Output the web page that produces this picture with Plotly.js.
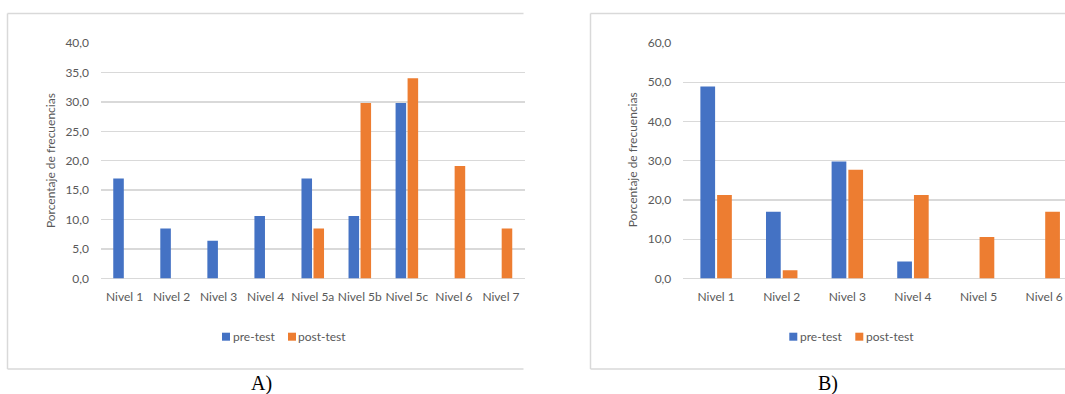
<!DOCTYPE html>
<html>
<head>
<meta charset="utf-8">
<script src="https://cdn.plot.ly/plotly-3.0.1.min.js"></script>
<style>
html, body { margin: 0; padding: 0; overflow: hidden; background: #ffffff; }
#chart { width: 1080px; height: 394px; }
</style>
</head>
<body>
<div id="chart"></div>
<script>
// ---- data ----
const seriesNames = ['pre-test', 'post-test'];
const seriesColors = ['#4472C4', '#ED7D31'];

const categoriesA = ['Nivel 1', 'Nivel 2', 'Nivel 3', 'Nivel 4', 'Nivel 5a', 'Nivel 5b', 'Nivel 5c', 'Nivel 6', 'Nivel 7'];
const preA  = [17.0, 8.5, 6.4, 10.6, 17.0, 10.6, 29.8, 0, 0];
const postA = [0, 0, 0, 0, 8.5, 29.8, 34.0, 19.1, 8.5];

const categoriesB = ['Nivel 1', 'Nivel 2', 'Nivel 3', 'Nivel 4', 'Nivel 5', 'Nivel 6'];
const preB  = [48.9, 17.0, 29.8, 4.3, 0, 0];
const postB = [21.3, 2.1, 27.7, 21.3, 10.6, 17.0];

const axisTitle = 'Porcentaje de frecuencias';
const panelLabels = ['A)', 'B)'];

// ---- layout helpers (pixel -> paper) ----
const W = 1080, H = 394;
const px = v => v / W;
const py = v => (H - v) / H;

const textColor = '#595959';
const gridColor = '#d9d9d9';
const font = 'Lato, "Open Sans", sans-serif';

function bar(x, y, i, xa, ya) {
  return {
    type: 'bar', x: x, y: y, name: seriesNames[i],
    marker: { color: seriesColors[i] },
    xaxis: xa, yaxis: ya, showlegend: false,
    hoverinfo: 'x+y'
  };
}

const data = [
  bar(categoriesA, preA, 0, 'x', 'y'),
  bar(categoriesA, postA, 1, 'x', 'y'),
  bar(categoriesB, preB, 0, 'x2', 'y2'),
  bar(categoriesB, postB, 1, 'x2', 'y2')
];

const yDom = [py(278.5), py(43)];

function xAxis(domain, anchor) {
  return {
    domain: domain, anchor: anchor, type: 'category',
    showgrid: false, zeroline: false, showline: false,
    ticks: '', ticklabelstandoff: 9,
    tickfont: { family: font, size: 12, color: textColor },
    fixedrange: true
  };
}
function yAxis(domain, anchor, max, dtick) {
  return {
    domain: domain, anchor: anchor, range: [0, max], dtick: dtick,
    tickformat: '.1f', showgrid: true, gridcolor: gridColor, gridwidth: 1.4,
    zeroline: true, zerolinecolor: gridColor, zerolinewidth: 1.4,
    showline: false, ticks: '', ticklabelstandoff: 11,
    tickfont: { family: font, size: 12, color: textColor },
    fixedrange: true
  };
}

const shapes = [];
const annotations = [];
function hline(x0, x1, y) {
  shapes.push({ type: 'line', xref: 'paper', yref: 'paper', x0: px(x0), x1: px(x1), y0: py(y), y1: py(y), line: { color: gridColor, width: 1.5 } });
}
function vline(x, y0, y1) {
  shapes.push({ type: 'line', xref: 'paper', yref: 'paper', x0: px(x), x1: px(x), y0: py(y0), y1: py(y1), line: { color: gridColor, width: 1.5 } });
}
// panel frames
vline(7.5, 13.5, 369); hline(7.5, 523.5, 13.5); hline(7.5, 523.5, 369);
vline(590.5, 13.5, 369); hline(590.5, 1080, 13.5); hline(590.5, 1080, 369);

// legends
function legend(items) {
  items.forEach((it, i) => {
    shapes.push({ type: 'rect', xref: 'paper', yref: 'paper', x0: px(it.sq), x1: px(it.sq + 8), y0: py(332.7), y1: py(340.7), fillcolor: seriesColors[i], line: { width: 0 } });
    annotations.push({ xref: 'paper', yref: 'paper', x: px(it.tx), y: py(336.5), xanchor: 'left', yanchor: 'middle', showarrow: false, text: seriesNames[i], font: { family: font, size: 12, color: textColor } });
  });
}
legend([{ sq: 222, tx: 230.5 }, { sq: 288, tx: 296 }]);
legend([{ sq: 789.3, tx: 797.5 }, { sq: 855.3, tx: 863.5 }]);

// y axis titles
[50.8, 632].forEach(x => {
  annotations.push({ xref: 'paper', yref: 'paper', x: px(x), y: py(160.3), xanchor: 'center', yanchor: 'middle', textangle: -90, showarrow: false, text: axisTitle, font: { family: font, size: 12, color: textColor } });
});
// panel labels
[[261, panelLabels[0]], [828, panelLabels[1]]].forEach(([x, t]) => {
  annotations.push({ xref: 'paper', yref: 'paper', x: px(x), y: py(383), xanchor: 'center', yanchor: 'middle', showarrow: false, text: t, font: { family: '"Liberation Serif", "DejaVu Serif", serif', size: 20, color: '#000000' } });
});

const layout = {
  width: W, height: H, autosize: false,
  margin: { l: 0, r: 0, t: 0, b: 0, pad: 0 },
  paper_bgcolor: '#ffffff', plot_bgcolor: '#ffffff',
  separators: ',.',
  barmode: 'group', bargap: 0.49, bargroupgap: 0.12,
  showlegend: false,
  xaxis: xAxis([px(101), px(524.5)], 'y'),
  yaxis: yAxis(yDom, 'x', 40, 5),
  xaxis2: xAxis([px(683.3), px(1077)], 'y2'),
  yaxis2: yAxis(yDom, 'x2', 60, 10),
  shapes: shapes,
  annotations: annotations,
  font: { family: font, color: textColor }
};

Plotly.newPlot('chart', data, layout, { displayModeBar: false, staticPlot: true });
</script>
</body>
</html>
